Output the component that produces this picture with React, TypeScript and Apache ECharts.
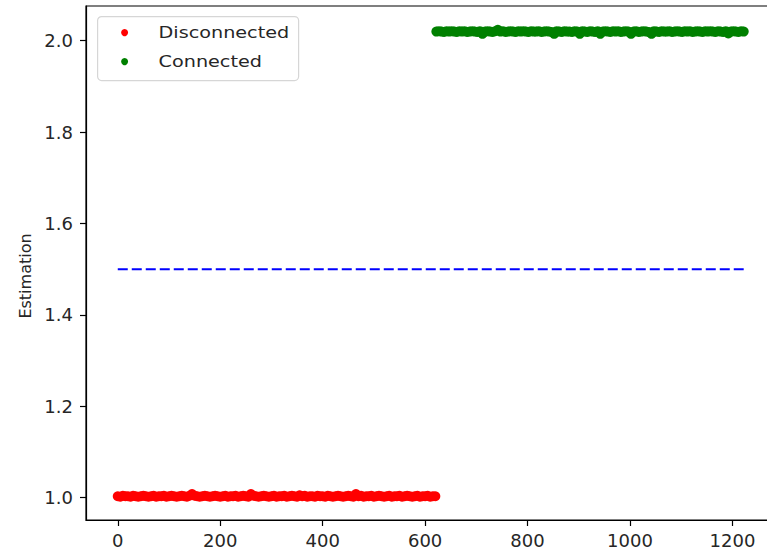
import React, { useEffect, useRef } from "react";
import * as echarts from "echarts";

// Sample positions: each series is sampled every `sampleStep` samples from its start index
const sampleStep = 5;
const disconnectedStart = 0;
const connectedStart = 622;

// Estimation values while the link is down
const disconnectedValues = [
  1.003, 1.002, 1.004, 1.003, 1.003, 1.002, 1.004, 1.003, 1.002, 1.003,
  1.004, 1.003, 1.002, 1.003, 1.004, 1.002, 1.003, 1.003, 1.004, 1.002,
  1.003, 1.004, 1.003, 1.002, 1.003, 1.004, 1.003, 1.002, 1.004, 1.008,
  1.004, 1.003, 1.002, 1.003, 1.004, 1.003, 1.002, 1.003, 1.004, 1.003,
  1.002, 1.003, 1.004, 1.002, 1.003, 1.003, 1.004, 1.002, 1.003, 1.004,
  1.003, 1.002, 1.008, 1.004, 1.003, 1.002, 1.003, 1.004, 1.003, 1.002,
  1.003, 1.004, 1.002, 1.003, 1.003, 1.004, 1.002, 1.003, 1.004, 1.003,
  1.002, 1.005, 1.003, 1.004, 1.002, 1.003, 1.003, 1.002, 1.004, 1.003,
  1.003, 1.002, 1.004, 1.003, 1.002, 1.003, 1.004, 1.003, 1.002, 1.003,
  1.004, 1.003, 1.002, 1.008, 1.003, 1.004, 1.002, 1.003, 1.003, 1.004,
  1.002, 1.003, 1.004, 1.003, 1.002, 1.003, 1.004, 1.002, 1.003, 1.003,
  1.004, 1.002, 1.003, 1.004, 1.003, 1.002, 1.003, 1.004, 1.002, 1.003,
  1.003, 1.004, 1.002, 1.003, 1.003,
];

// Estimation values while the link is up
const connectedValues = [
  2.02, 2.021, 2.02, 2.019, 2.021, 2.02, 2.021, 2.02, 2.019, 2.021,
  2.02, 2.021, 2.019, 2.02, 2.021, 2.02, 2.019, 2.021, 2.015, 2.02,
  2.021, 2.02, 2.019, 2.021, 2.024, 2.02, 2.021, 2.019, 2.02, 2.021,
  2.02, 2.019, 2.021, 2.02, 2.021, 2.02, 2.019, 2.021, 2.02, 2.02,
  2.021, 2.019, 2.02, 2.021, 2.02, 2.019, 2.015, 2.021, 2.02, 2.019,
  2.021, 2.02, 2.02, 2.019, 2.021, 2.02, 2.015, 2.021, 2.02, 2.019,
  2.021, 2.02, 2.019, 2.021, 2.015, 2.02, 2.021, 2.02, 2.019, 2.021,
  2.02, 2.021, 2.019, 2.02, 2.021, 2.02, 2.015, 2.02, 2.021, 2.019,
  2.02, 2.021, 2.02, 2.019, 2.015, 2.021, 2.02, 2.019, 2.021, 2.02,
  2.02, 2.021, 2.019, 2.02, 2.021, 2.02, 2.019, 2.021, 2.02, 2.021,
  2.019, 2.02, 2.021, 2.02, 2.019, 2.021, 2.02, 2.021, 2.02, 2.019,
  2.021, 2.02, 2.019, 2.021, 2.016, 2.02, 2.021, 2.02, 2.019, 2.021,
  2.02,
];

// Decision threshold
const thresholdX = [0, 1222];
const thresholdValue = 1.5;

// Axis ticks
const xTicks = [0, 200, 400, 600, 800, 1000, 1200];
const yTicks = [1.0, 1.2, 1.4, 1.6, 1.8, 2.0];

const FONT = "DejaVu Sans";
const TEXT_COLOR = "#262626";

const toPoints = (values: number[], start: number) =>
  values.map((v, i) => [start + i * sampleStep, v]);

export default function App() {
  const ref = useRef<HTMLDivElement>(null);

  useEffect(() => {
    document.body.style.margin = "0";
    if (!ref.current) return;
    const chart = echarts.init(ref.current, null, { renderer: "svg" });

    chart.setOption({
      animation: false,
      backgroundColor: "#ffffff",
      grid: {
        left: 86,
        top: 6,
        width: 691,
        height: 514,
        containLabel: false,
        outerBoundsMode: "none",
        show: true,
        borderColor: "#000000",
        borderWidth: 1.2,
        backgroundColor: "transparent",
      },
      xAxis: {
        type: "value",
        min: -62,
        max: 1287,
        splitLine: { show: false },
        axisLine: { show: true, onZero: false, lineStyle: { color: "#000000", width: 1.2 } },
        axisTick: {
          show: true,
          length: 6,
          customValues: xTicks,
          lineStyle: { color: "#000000", width: 1.2 },
        },
        axisLabel: {
          customValues: xTicks,
          margin: 11,
          color: TEXT_COLOR,
          fontFamily: FONT,
          fontSize: 18,
          formatter: (v: number) => String(v),
        },
      },
      yAxis: {
        type: "value",
        min: 0.951,
        max: 2.076,
        splitLine: { show: false },
        axisLine: { show: true, onZero: false, lineStyle: { color: "#000000", width: 1.2 } },
        axisTick: {
          show: true,
          length: 6,
          customValues: yTicks,
          lineStyle: { color: "#000000", width: 1.2 },
        },
        axisLabel: {
          customValues: yTicks,
          margin: 13,
          color: TEXT_COLOR,
          fontFamily: FONT,
          fontSize: 18,
          formatter: (v: number) => v.toFixed(1),
        },
      },
      series: [
        {
          name: "Disconnected",
          type: "scatter",
          symbol: "circle",
          symbolSize: 10,
          itemStyle: { color: "#ff0000", opacity: 1 },
          data: toPoints(disconnectedValues, disconnectedStart),
        },
        {
          name: "Connected",
          type: "scatter",
          symbol: "circle",
          symbolSize: 10,
          itemStyle: { color: "#008000", opacity: 1 },
          data: toPoints(connectedValues, connectedStart),
        },
        {
          name: "Threshold",
          type: "line",
          showSymbol: false,
          silent: true,
          lineStyle: { color: "#0000ff", width: 2, type: [10, 4] },
          data: thresholdX.map((x) => [x, thresholdValue]),
        },
      ],
      graphic: [
        {
          type: "text",
          x: 25,
          y: 276,
          rotation: Math.PI / 2,
          style: {
            text: "Estimation",
            fill: TEXT_COLOR,
            font: `16px "${FONT}"`,
            textAlign: "center",
            textVerticalAlign: "middle",
          },
        },
        {
          type: "group",
          left: 97,
          top: 16,
          children: [
            {
              type: "rect",
              shape: { x: 0, y: 0, width: 201, height: 64, r: 4 },
              style: { fill: "rgba(255,255,255,0.8)", stroke: "#d6d6d6", lineWidth: 1.2 },
            },
            {
              type: "circle",
              shape: { cx: 27, cy: 16, r: 3.5 },
              style: { fill: "#ff0000" },
            },
            {
              type: "circle",
              shape: { cx: 27, cy: 45, r: 3.5 },
              style: { fill: "#008000" },
            },
            {
              type: "text",
              x: 61,
              y: 16,
              scaleX: 1.2,
              style: {
                text: "Disconnected",
                fill: TEXT_COLOR,
                font: `16px "${FONT}"`,
                textVerticalAlign: "middle",
              },
            },
            {
              type: "text",
              x: 61,
              y: 45,
              scaleX: 1.2,
              style: {
                text: "Connected",
                fill: TEXT_COLOR,
                font: `16px "${FONT}"`,
                textVerticalAlign: "middle",
              },
            },
          ],
        },
      ],
    });

    return () => chart.dispose();
  }, []);

  return (
    <div
      ref={ref}
      style={{ position: "absolute", left: 0, top: 0, width: 767, height: 553 }}
    />
  );
}
